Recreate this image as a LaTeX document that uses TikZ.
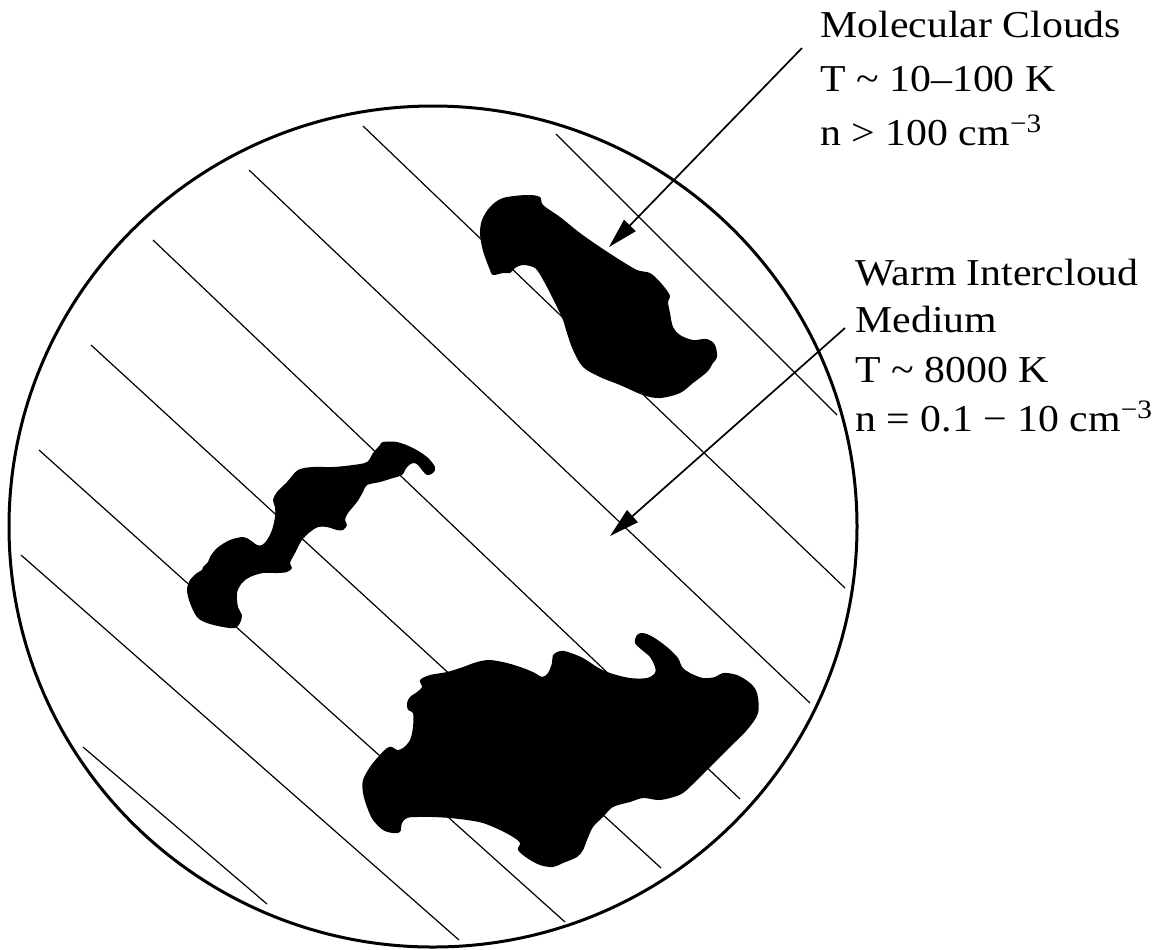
\documentclass[tikz,border=0pt]{standalone}
\usepackage{fontspec}
\usetikzlibrary{arrows.meta}
\newfontfamily\labelfont[FakeStretch=1.1]{Liberation Serif}

\begin{document}
\begin{tikzpicture}[x=0.5pt,y=-0.5pt,
  rim/.style={line width=1.5pt},
  hatch/.style={line width=0.6pt},
  cloud/.style={fill=black},
  pointer/.style={line width=0.85pt,-{Triangle[length=15pt,width=8pt]}},
  lbl/.style={font=\labelfont\fontsize{19pt}{23pt}\selectfont,anchor=base west,inner sep=0pt}]

\useasboundingbox (0,0) rectangle (1160,949);

% slanted lines of the warm medium
\draw[hatch] (556,134) -- (837,415);
\draw[hatch] (363,126) -- (845,588);
\draw[hatch] (249,170) -- (810,703);
\draw[hatch] (153,240) -- (740,799);
\draw[hatch] (91,345) -- (661,868);
\draw[hatch] (39,450) -- (565,922);
\draw[hatch] (21,555) -- (459,940);
\draw[hatch] (83,747) -- (267,904);

% upper cloud
\fill[cloud] plot[smooth cycle,tension=0.55] coordinates {
  (503,198) (527,195) (540,197) (543,205) (560,217) (580,233) (600,247)
  (620,260) (637,270) (650,273) (660,282) (668,292) (670,297) (668,302)
  (670,313) (673,327) (680,335) (693,340) (707,339) (715,345) (717,357)
  (713,363) (707,372) (693,383) (680,393) (660,398) (643,395) (620,385)
  (600,377) (583,367) (573,350) (567,333) (563,320) (557,307) (547,287)
  (537,270) (530,266) (522,265) (515,268) (510,273) (503,273) (493,275)
  (490,270) (485,257) (482,247) (480,233) (482,220) (490,207)};

% small cloud, middle left
\fill[cloud] plot[smooth cycle,tension=0.55] coordinates {
  (383,442) (397,442) (413,448) (427,457) (435,467) (433,473) (427,475)
  (422,470) (418,465) (413,463) (407,467) (402,475) (393,478) (380,482)
  (367,485) (363,492) (357,502) (348,513) (345,520) (347,525) (343,530)
  (337,530) (327,527) (318,527) (310,532) (302,540) (295,553) (290,563)
  (292,568) (287,572) (277,573) (263,573) (250,577) (242,583) (237,593)
  (238,607) (242,615) (240,623) (235,628) (223,627) (207,623) (197,617)
  (190,603) (187,590) (190,580) (197,573) (202,570) (203,567) (208,562)
  (210,557) (217,548) (230,540) (243,537) (250,540) (257,545) (262,545)
  (267,540) (272,530) (275,517) (275,507) (273,500) (277,492) (287,482)
  (298,470) (313,467) (333,467) (353,465) (367,462) (373,453) (380,445)};

% large cloud, bottom
\fill[cloud] plot[smooth cycle,tension=0.55] coordinates {
  (420,680) (430,675) (447,672) (463,667) (477,662) (490,660) (507,663)
  (523,668) (535,673) (542,677) (548,673) (552,663) (553,655) (560,651)
  (568,652) (583,658) (597,667) (610,673) (630,678) (647,678) (655,673)
  (655,667) (650,657) (642,650) (635,643) (637,635) (643,633) (653,637)
  (667,647) (678,658) (682,667) (690,673) (703,678) (715,677) (723,673)
  (737,675) (750,683) (757,693) (758,713) (747,730) (730,747) (710,767)
  (697,780) (683,793) (670,798) (658,800) (643,798) (630,802) (613,807)
  (603,817) (593,827) (587,840) (583,850) (577,857) (563,863) (553,867)
  (540,865) (527,858) (518,850) (520,843) (513,837) (500,830) (483,823)
  (467,820) (450,818) (433,817) (417,817) (407,818) (402,823) (400,832)
  (393,833) (383,830) (373,820) (367,807) (363,793) (363,780) (370,767)
  (378,757) (387,748) (392,747) (397,750) (403,748) (410,740) (413,727)
  (413,713) (408,710) (407,703) (410,697) (417,692) (422,687)};

% outline of the region
\draw[rim] (433,526.5) ellipse [x radius=212pt, y radius=210.25pt];

% labels
\node[lbl] (mc1) at (820,37) {Molecular Clouds};
\node[lbl] (mc2) at (820,91) {T \textasciitilde{} 10–100 K};
\node[lbl] (mc3) at (820,145) {n > 100 cm\textsuperscript{−3}};

\node[lbl] (wm1) at (855,285) {Warm Intercloud};
\node[lbl] (wm2) at (855,332) {Medium};
\node[lbl] (wm3) at (855,382) {T \textasciitilde{} 8000 K};
\node[lbl] (wm4) at (855,431) {n = 0.1 − 10 cm\textsuperscript{−3}};

% pointers
\coordinate (mctail) at (802,48);
\coordinate (mctip) at (609,247);
\coordinate (wmtail) at (845,328);
\coordinate (wmtip) at (610,536);
\draw[pointer] (mctail) -- (mctip);
\draw[pointer] (wmtail) -- (wmtip);

\end{tikzpicture}
\end{document}
